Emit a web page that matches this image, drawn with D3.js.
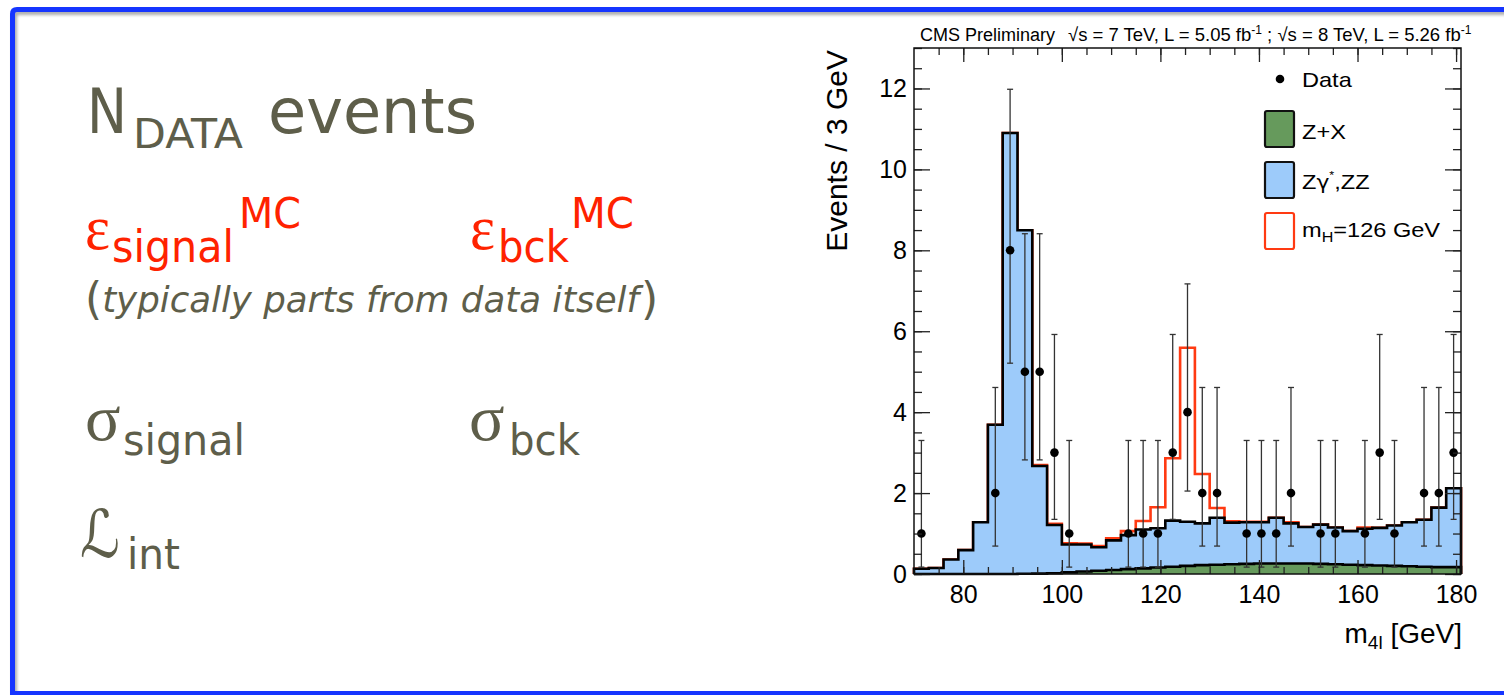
<!DOCTYPE html>
<html><head><meta charset="utf-8">
<script src="https://cdn.jsdelivr.net/npm/d3@7"></script>
<style>html,body{margin:0;padding:0;background:#fff;overflow:hidden}svg{display:block}</style>
</head><body>
<svg id="c" width="1504" height="695"></svg>
<script>
// ---------------- data ----------------
const binLow = [70,73,76,79,82,85,88,91,94,97,100,103,106,109,112,115,118,121,124,127,130,133,136,139,142,145,148,151,154,157,160,163,166,169,172,175,178];
const binWidth = 3;
const zxBkg = [0,0,0,0,0,0,0,0.005,0.01,0.02,0.04,0.06,0.08,0.10,0.12,0.14,0.16,0.18,0.20,0.22,0.23,0.24,0.25,0.26,0.26,0.26,0.26,0.25,0.24,0.23,0.22,0.21,0.20,0.19,0.18,0.17,0.17];
const zzBkg = [0.13,0.15,0.36,0.59,1.28,3.69,10.9,8.49,2.66,1.19,0.69,0.67,0.58,0.73,0.84,0.96,0.97,1.14,1.09,1.03,1.16,1.03,1.03,1.02,1.13,0.99,0.90,0.97,0.91,0.83,0.90,0.93,1.00,1.09,1.16,1.47,1.95];
const sigH126 = [0,0,0,0,0,0,0,0,0.02,0.03,0.03,0.02,0.03,0.05,0.10,0.21,0.52,1.54,4.30,1.22,0.24,0.03,0.01,0.01,0,0.03,0,0,0,0,0.03,0,0,0,0,0,0];
const dataMass = [71.5,86.5,89.5,92.5,95.5,98.5,101.5,113.5,116.5,119.5,122.5,125.5,128.5,131.5,137.5,140.5,143.5,146.5,152.5,155.5,161.5,164.5,167.5,173.5,176.5,179.5];
const dataCount = [1,2,8,5,5,3,1,1,1,1,3,4,2,2,1,1,1,2,1,1,1,3,1,2,2,3];
const dataErrLow = [0.17,0.69,5.21,2.82,2.82,1.35,0.17,0.17,0.17,0.17,1.35,2.05,0.69,0.69,0.17,0.17,0.17,0.69,0.17,0.17,0.17,1.35,0.17,0.69,0.69,1.35];
const dataErrHigh = [3.30,4.61,11.98,8.41,8.41,5.92,3.30,3.30,3.30,3.30,5.92,7.17,4.61,4.61,3.30,3.30,3.30,4.61,3.30,3.30,3.30,5.92,3.30,4.61,4.61,5.92];
const xMajorTicks = [80,100,120,140,160,180];
const yMajorTicks = [0,2,4,6,8,10,12];
const xDomain = [70,181];
const yDomain = [0,13];

// ---------------- setup ----------------
const svg = d3.select("#c");
const GREY = "#5e5e4a", RED = "#ff2200";
const SANS = "'Liberation Sans', Arial, sans-serif";
const DJ = "'DejaVu Sans', Verdana, sans-serif";

const defs = svg.append("defs");
const f = defs.append("filter").attr("id","sh").attr("x","-5%").attr("y","-5%").attr("width","110%").attr("height","110%");
f.append("feDropShadow").attr("dx",2).attr("dy",3).attr("stdDeviation",1.8).attr("flood-color","#777").attr("flood-opacity",0.6);
svg.append("path")
  .attr("d","M1510 9.5 L17 9.5 Q12.5 9.5 12.5 14 L12.5 693.5 L1510 693.5")
  .attr("fill","none").attr("stroke","#1436ff").attr("stroke-width",5)
  .attr("filter","url(#sh)");

// ---------------- left slide text ----------------
const L = svg.append("g");
function piece(t, x, yb, size, opts={}) {
  const e = L.append("text").attr("x",x).attr("y",yb)
    .attr("font-size",size)
    .attr("font-family", opts.family || DJ)
    .attr("fill", opts.color || GREY)
    .text(t);
  if (opts.italic) e.attr("font-style","italic");
  if (opts.w) e.attr("textLength",opts.w).attr("lengthAdjust","spacingAndGlyphs");
  return e;
}
const SERIF = "'Liberation Serif','DejaVu Serif',serif";
piece("N", 87, 133, 62, {w:40});
piece("DATA", 133, 148, 41, {w:110});
piece("events", 268, 133, 62, {w:209});

piece("ε", 85, 249, 64, {family:SERIF, color:RED, w:25});
piece("signal", 112, 262, 45, {color:RED, w:122});
piece("MC", 239, 228, 42, {color:RED, w:62});
piece("ε", 470, 249, 64, {family:SERIF, color:RED, w:25});
piece("bck", 498, 262, 45, {color:RED, w:71});
piece("MC", 571, 228, 42, {color:RED, w:63});

// "(typically parts from data itself)" — one flowing text
const par = L.append("text").attr("x",85).attr("y",314).attr("font-family",DJ).attr("fill",GREY);
par.append("tspan").attr("font-size",44).text("(");
par.append("tspan").attr("dy",-2).attr("font-size",35.6).attr("font-style","italic").text("typically parts from data itself");
par.append("tspan").attr("dy",2).attr("dx",2).attr("font-size",44).text(")");

piece("σ", 85, 440, 66, {family:SERIF});
piece("signal", 123, 455, 43, {w:122});
piece("σ", 469, 440, 66, {family:SERIF});
piece("bck", 509, 455, 43, {w:71});

piece("ℒ", 80, 557, 66, {w:40});
piece("int", 127, 569, 43, {w:53});

// ---------------- chart ----------------
const x = d3.scaleLinear().domain(xDomain).range([914,1461]);
const y = d3.scaleLinear().domain(yDomain).range([574,48]);
const C = svg.append("g");

const bins = binLow.map((lo,i) => ({lo, zx:zxBkg[i], tot:zxBkg[i]+zzBkg[i], sig:zxBkg[i]+zzBkg[i]+sigH126[i]}));
const last = bins[bins.length-1];
const pts = bins.concat([{lo:last.lo+binWidth, zx:last.zx, tot:last.tot, sig:last.sig}]);

const stepLine = key => d3.line().curve(d3.curveStepAfter).x(d=>x(d.lo)).y(d=>y(d[key]));
const stepArea = (k0,k1) => d3.area().curve(d3.curveStepAfter).x(d=>x(d.lo)).y0(d=>k0?y(d[k0]):y(0)).y1(d=>y(d[k1]));

function closedPath(key){
  const p = stepLine(key)(pts);
  return `M${x(xDomain[0])},${y(0)}L` + p.slice(1) + `L${x(last.lo+binWidth)},${y(0)}`;
}

C.append("path").attr("d", closedPath("sig")).attr("fill","none")
  .attr("stroke","#ff3a12").attr("stroke-width",2.6);
C.append("path").attr("d", stepArea("zx","tot")(pts)).attr("fill","#9dcbfa").attr("stroke","none");
C.append("path").attr("d", stepArea(null,"zx")(pts)).attr("fill","#669a5c").attr("stroke","none");
C.append("path").attr("d", closedPath("tot")).attr("fill","none").attr("stroke","#000").attr("stroke-width",2.6);
C.append("path").attr("d", closedPath("zx")).attr("fill","none").attr("stroke","#000").attr("stroke-width",2.6);

const D = C.append("g");
dataMass.forEach((m,i) => {
  const cx = x(m);
  D.append("line").attr("x1",cx).attr("x2",cx).attr("y1",y(dataErrLow[i])).attr("y2",y(dataErrHigh[i]))
    .attr("stroke","#333").attr("stroke-width",1.3);
  [dataErrLow[i], dataErrHigh[i]].forEach(v => {
    D.append("line").attr("x1",cx-3).attr("x2",cx+3).attr("y1",y(v)).attr("y2",y(v))
      .attr("stroke","#333").attr("stroke-width",1.3);
  });
  D.append("circle").attr("cx",cx).attr("cy",y(dataCount[i])).attr("r",4.3).attr("fill","#000");
});

const yMinor = d3.range(0, 13.001, 0.5);
const xMinor = d3.range(75, 181, 5);
function styleAxis(g){ g.select(".domain").remove(); g.selectAll(".tick line").attr("stroke","#222").attr("stroke-width",1.3); }

C.append("g").attr("transform",`translate(0,${y(0)})`)
  .call(d3.axisBottom(x).tickValues(xMinor).tickSize(-7).tickFormat("")).call(styleAxis);
C.append("g").attr("transform",`translate(0,${y(0)})`)
  .call(d3.axisBottom(x).tickValues(xMajorTicks).tickSize(-14).tickPadding(11).tickFormat(d3.format("d")))
  .call(styleAxis)
  .call(g => g.selectAll("text").attr("font-family",SANS).attr("font-size",25).attr("fill","#000"));
C.append("g").attr("transform",`translate(0,${y(13)})`)
  .call(d3.axisTop(x).tickValues(xMinor).tickSize(-7).tickFormat("")).call(styleAxis);
C.append("g").attr("transform",`translate(0,${y(13)})`)
  .call(d3.axisTop(x).tickValues(xMajorTicks).tickSize(-14).tickFormat("")).call(styleAxis);

C.append("g").attr("transform",`translate(${x(xDomain[0])},0)`)
  .call(d3.axisLeft(y).tickValues(yMinor).tickSize(-8).tickFormat("")).call(styleAxis);
C.append("g").attr("transform",`translate(${x(xDomain[0])},0)`)
  .call(d3.axisLeft(y).tickValues(yMajorTicks).tickSize(-16).tickPadding(7).tickFormat(d3.format("d")))
  .call(styleAxis)
  .call(g => g.selectAll("text").attr("font-family",SANS).attr("font-size",25).attr("fill","#000"));
C.append("g").attr("transform",`translate(${x(xDomain[1])},0)`)
  .call(d3.axisRight(y).tickValues(yMinor).tickSize(-8).tickFormat("")).call(styleAxis);
C.append("g").attr("transform",`translate(${x(xDomain[1])},0)`)
  .call(d3.axisRight(y).tickValues(yMajorTicks).tickSize(-16).tickFormat("")).call(styleAxis);

C.append("rect").attr("x",x(xDomain[0])).attr("y",y(yDomain[1]))
  .attr("width",x(xDomain[1])-x(xDomain[0])).attr("height",y(0)-y(yDomain[1]))
  .attr("fill","none").attr("stroke","#111").attr("stroke-width",1.5);

C.append("text").attr("transform",`translate(847,50) rotate(-90)`).attr("text-anchor","end")
  .attr("font-family",SANS).attr("font-size",30).attr("fill","#000").text("Events / 3 GeV");
const xt = C.append("text").attr("x",1462).attr("y",643).attr("text-anchor","end")
  .attr("font-family",SANS).attr("font-size",28).attr("fill","#000");
xt.append("tspan").text("m");
xt.append("tspan").attr("font-size",19).attr("dy",6).text("4l");
xt.append("tspan").attr("dy",-6).text(" [GeV]");

C.append("text").attr("x",920).attr("y",41).attr("font-family",SANS).attr("font-size",18).attr("fill","#000").text("CMS Preliminary");
const hd = C.append("text").attr("x",1068).attr("y",41).attr("font-family",SANS).attr("font-size",18.5).attr("fill","#000");
hd.append("tspan").text("√s = 7 TeV, L = 5.05 fb");
hd.append("tspan").attr("font-size",12).attr("dy",-7).text("-1");
hd.append("tspan").attr("dy",7).text(" ; √s = 8 TeV, L = 5.26 fb");
hd.append("tspan").attr("font-size",12).attr("dy",-7).text("-1");

const LG = C.append("g");
LG.append("circle").attr("cx",1280).attr("cy",79).attr("r",4.3).attr("fill","#000");
LG.append("rect").attr("x",1265).attr("y",111).attr("width",29).attr("height",36).attr("rx",2)
  .attr("fill","#669a5c").attr("stroke","#111").attr("stroke-width",2.2);
LG.append("rect").attr("x",1265).attr("y",162).attr("width",29).attr("height",36).attr("rx",2)
  .attr("fill","#9dcbfa").attr("stroke","#111").attr("stroke-width",2.2);
LG.append("rect").attr("x",1265).attr("y",213).attr("width",29).attr("height",36).attr("rx",2)
  .attr("fill","#fff").attr("stroke","#ff3a12").attr("stroke-width",2.2);
function legText(yb){
  return LG.append("text").attr("transform",`translate(1302,${yb}) scale(1.15,1)`)
    .attr("font-family",SANS).attr("font-size",20.5).attr("fill","#000");
}
legText(87).text("Data");
legText(139).text("Z+X");
const t3 = legText(189);
t3.append("tspan").text("Z");
t3.append("tspan").attr("font-family","'DejaVu Sans',sans-serif").attr("font-size",19).text("γ");
t3.append("tspan").attr("font-size",11).attr("dy",-10).text("*");
t3.append("tspan").attr("dy",10).text(",ZZ");
const t4 = legText(237);
t4.append("tspan").text("m");
t4.append("tspan").attr("font-size",14).attr("dy",5).text("H");
t4.append("tspan").attr("dy",-5).text("=126 GeV");
</script>
</body></html>
